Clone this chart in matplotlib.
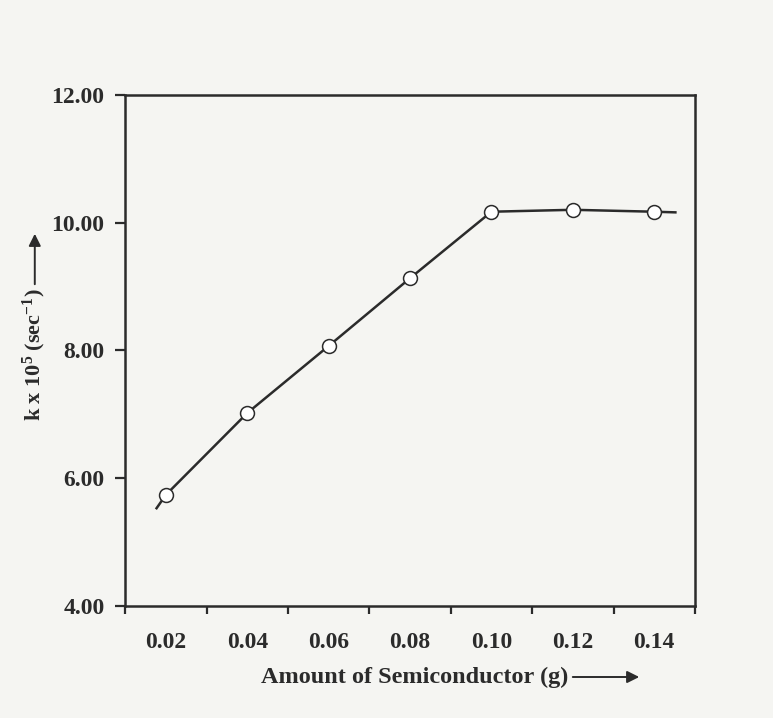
import matplotlib
matplotlib.use("Agg")
import matplotlib.pyplot as plt
from matplotlib.ticker import FixedLocator, NullFormatter

# Data
amount_g = [0.02, 0.04, 0.06, 0.08, 0.10, 0.12, 0.14]
k_x1e5 = [5.74, 7.02, 8.07, 9.13, 10.17, 10.20, 10.17]
# drawn line extends a little beyond the first and last points
line_start = (0.0177, 5.53)
line_end = (0.1452, 10.16)

x_tick_labels = ["0.02", "0.04", "0.06", "0.08", "0.10", "0.12", "0.14"]
x_minor_ticks = [0.01, 0.03, 0.05, 0.07, 0.09, 0.11, 0.13, 0.15]
y_ticks = [4.0, 6.0, 8.0, 10.0, 12.0]
y_tick_labels = ["4.00", "6.00", "8.00", "10.00", "12.00"]

bg = "#f5f5f2"
ink = "#2b2b2b"
plt.rcParams["font.family"] = ["Liberation Serif", "DejaVu Serif"]
plt.rcParams["font.weight"] = "bold"
plt.rcParams["mathtext.fontset"] = "custom"
plt.rcParams["mathtext.rm"] = "Liberation Serif:bold"
plt.rcParams["mathtext.it"] = "Liberation Serif:bold"
plt.rcParams["mathtext.bf"] = "Liberation Serif:bold"
plt.rcParams["mathtext.default"] = "rm"

fig = plt.figure(figsize=(7.73, 7.18), dpi=100, facecolor=bg)
ax = fig.add_axes([0.162, 0.156, 0.737, 0.712], facecolor=bg)

lx = [line_start[0]] + amount_g + [line_end[0]]
ly = [line_start[1]] + k_x1e5 + [line_end[1]]
ax.plot(lx, ly, color=ink, lw=1.8, zorder=2)
ax.plot(amount_g, k_x1e5, linestyle="none", marker="o", markersize=10,
        markerfacecolor="white", markeredgecolor=ink, markeredgewidth=1.1, zorder=3)

ax.set_xlim(0.01, 0.15)
ax.set_ylim(4.0, 12.0)

ax.xaxis.set_major_locator(FixedLocator(amount_g))
ax.set_xticklabels(x_tick_labels)
ax.xaxis.set_minor_locator(FixedLocator(x_minor_ticks))
ax.xaxis.set_minor_formatter(NullFormatter())
ax.tick_params(axis="x", which="major", length=0, pad=19, labelsize=17, colors=ink)
ax.tick_params(axis="x", which="minor", length=6, width=1.6, direction="out", color=ink)

ax.set_yticks(y_ticks)
ax.set_yticklabels(y_tick_labels)
ax.tick_params(axis="y", which="major", length=7, width=1.6, direction="out",
               pad=8, labelsize=17, colors=ink)

for sp in ax.spines.values():
    sp.set_color(ink)
    sp.set_linewidth(1.8)

# x label with arrow
fig.text(0.536, 0.057, "Amount of Semiconductor (g)", ha="center", va="center",
         fontsize=17.5, fontweight="bold", color=ink)
fig.add_artist(matplotlib.patches.FancyArrowPatch(
    (570 / 773, 1 - 677 / 718), (642 / 773, 1 - 677 / 718),
    transform=fig.transFigure, arrowstyle="-|>", mutation_scale=18,
    color=ink, lw=1.4))

# y label with arrow
fig.text(0.045, 1 - 355 / 718, r"k x 10$^{5}$ (sec$^{-1}$)", ha="center",
         va="center", rotation=90, fontsize=16, fontweight="bold", color=ink)
fig.add_artist(matplotlib.patches.FancyArrowPatch(
    (0.045, 1 - 287 / 718), (0.045, 1 - 231 / 718),
    transform=fig.transFigure, arrowstyle="-|>", mutation_scale=18,
    color=ink, lw=1.4))

fig.savefig("out.png", dpi=100, facecolor=bg)
